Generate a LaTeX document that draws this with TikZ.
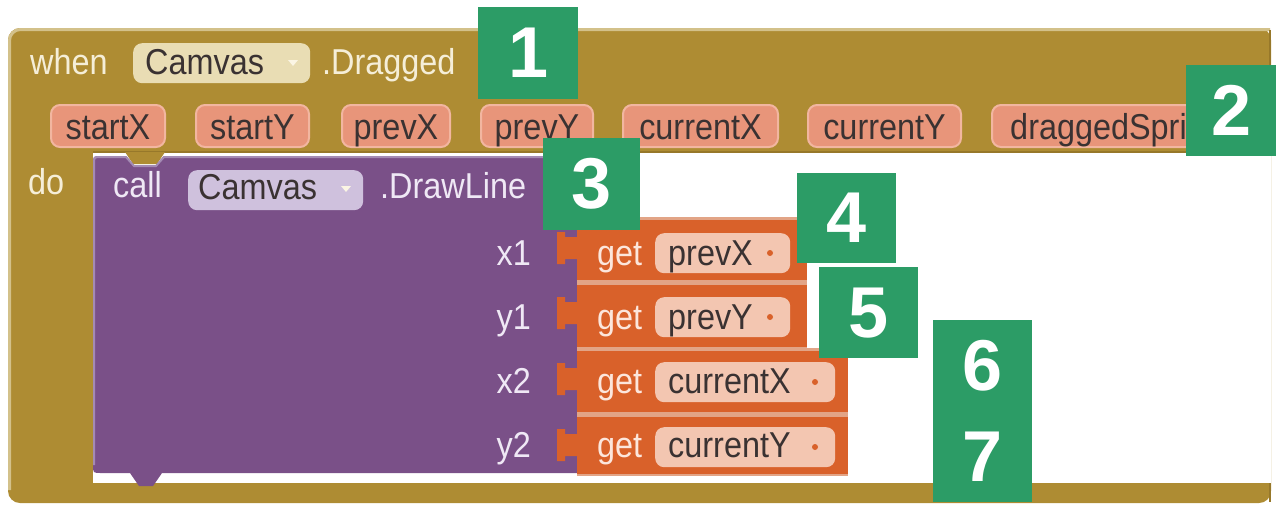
\documentclass[tikz,border=0pt]{standalone}
\usepackage{fontspec}
\setmainfont{Liberation Sans}[FakeStretch=0.9]
\newfontfamily\digitfont{Liberation Sans}
\definecolor{evt}{HTML}{AE8C33}
\definecolor{evtlight}{HTML}{D3C18A}
\definecolor{evtdark}{HTML}{97782A}
\definecolor{evttext}{HTML}{F5EED8}
\definecolor{evtpill}{HTML}{E9DDB4}
\definecolor{evtarrow}{HTML}{FBF5E4}
\definecolor{callc}{HTML}{7A5088}
\definecolor{calllight}{HTML}{A48BB4}
\definecolor{calltext}{HTML}{EFE8F5}
\definecolor{callpill}{HTML}{CFC1DD}
\definecolor{getc}{HTML}{D9612A}
\definecolor{getgap}{HTML}{E2A486}
\definecolor{gettext}{HTML}{FCE6DC}
\definecolor{getpill}{HTML}{F3C6B1}
\definecolor{param}{HTML}{E8957A}
\definecolor{paramedge}{HTML}{F2B6A0}
\definecolor{pilltext}{HTML}{3A3232}
\definecolor{mark}{HTML}{2C9C66}
\begin{document}
\begin{tikzpicture}[x=1pt,y=-1pt,
  lab/.style={inner sep=0pt, anchor=base west, font=\fontsize{36}{36}\selectfont},
  labr/.style={lab, anchor=base east, text=calltext},
  pillbox/.style={rounded corners=9pt, inner sep=0pt, anchor=north west, minimum height=40pt},
  parampill/.style={pillbox, fill=param, draw=paramedge, line width=2pt, minimum height=42pt,
    text=pilltext, font=\fontsize{36}{36}\selectfont, text height=26pt, text depth=0pt},
  getblock/.style={fill=getc, inner sep=0pt, anchor=north west},
  badge/.style={fill=mark, text=white, inner sep=0pt, anchor=north west,
    font=\digitfont\bfseries\fontsize{72}{72}\selectfont}]
\useasboundingbox (0,0) rectangle (1276,506);

% event handler body (olive frame)
\fill[evt, rounded corners=12pt] (8,28) rectangle (1271,503);
\draw[evtlight, line width=3pt, rounded corners=11pt] (9.5,490) -- (9.5,29.5) -- (1270,29.5);
\draw[evtdark, line width=2pt] (1270,30) -- (1270,502);
\fill[white] (93,153) rectangle (1271,483);
\draw[evtdark, line width=2pt] (93,152) -- (1271,152);
\fill[evt] (125,152) -- (133,164) -- (157,164) -- (165,152) -- cycle;

% call block (purple)
\fill[callc] (577,156) -- (577,473) -- (162,473) -- (153,486) -- (139,486) -- (130,473)
  -- (101,473) .. controls (93,473) .. (93,465) -- (93,164) .. controls (93,156) .. (101,156)
  -- (126,156) -- (134,165) -- (156,165) -- (164,156) -- cycle;
\draw[calllight, line width=2pt] (94,465) -- (94,164) .. controls (94,157) .. (101,157) -- (126,157)
  -- (134,166) -- (156,166) -- (164,157) -- (577,157);

% getter blocks (orange)
\fill[getgap] (577,217) rectangle (807,349);
\fill[getgap] (577,348) rectangle (848,476);
\node[getblock, minimum width=230pt, minimum height=60pt] (getA) at (577,220) {};
\node[getblock, minimum width=230pt, minimum height=62pt] (getB) at (577,285) {};
\node[getblock, minimum width=271pt, minimum height=61pt] (getC) at (577,351) {};
\node[getblock, minimum width=271pt, minimum height=57pt] (getD) at (577,417) {};
\foreach \t in {220,285,351,417}{
  \fill[getc] (578,\t+17) -- (565,\t+17) -- (565,\t+12) -- (557,\t+12) -- (557,\t+44)
    -- (565,\t+44) -- (565,\t+39) -- (578,\t+39) -- cycle;
}

% header row
\node[lab, text=evttext] (whenlbl) at (30,74) {when};
\node[pillbox, fill=evtpill, minimum width=177pt] (evtsrc) at (133,43) {};
\node[lab, text=pilltext] (evtsrcname) at (145,74) {Camvas};
\fill[evtarrow] (288,60) -- (298,60) -- (293,66) -- cycle;
\node[lab, text=evttext] (evtname) at (322,74) {.Dragged};

% event parameters
\node[parampill, minimum width=114pt] (pStartX) at (50,104) {startX};
\node[parampill, minimum width=113pt] (pStartY) at (195,104) {startY};
\node[parampill, minimum width=108pt] (pPrevX) at (341,104) {prevX};
\node[parampill, minimum width=112pt] (pPrevY) at (480,104) {prevY};
\node[parampill, minimum width=155pt] (pCurX) at (622,104) {currentX};
\node[parampill, minimum width=153pt] (pCurY) at (807,104) {currentY};
\node[parampill, minimum width=240pt] (pSprite) at (991,104) {draggedSprite};

% call row
\node[lab, text=evttext] (dolbl) at (28,194) {do};
\node[lab, text=calltext] (calllbl) at (113,197) {call};
\node[pillbox, fill=callpill, minimum width=175pt] (callsrc) at (188,170) {};
\node[lab, text=pilltext] (callsrcname) at (198,199) {Camvas};
\fill[evtarrow] (341,186) -- (351,186) -- (346,192) -- cycle;
\node[lab, text=calltext] (method) at (380,198) {.DrawLine};

% argument labels
\node[labr] (argx1) at (531,265) {x1};
\node[labr] (argy1) at (531,329) {y1};
\node[labr] (argx2) at (531,393) {x2};
\node[labr] (argy2) at (531,457) {y2};

% getter contents
\foreach \n/\b/\p/\w/\v in {A/265/233/135/prevX, B/329/297/135/prevY, C/393/362/180/currentX, D/457/427/180/currentY}{
  \node[lab, text=gettext] (get\n) at (597,\b) {get};
  \node[pillbox, fill=getpill, minimum width=\w pt] (var\n) at (655,\p) {};
  \node[lab, text=pilltext] (name\n) at (668,\b) {\v};
  \fill[getc] (655+\w-20,\p+20) circle (3pt);
}

% numbered markers
\node[badge, minimum width=100pt, minimum height=92pt] (m1) at (478,7) {1};
\node[badge, minimum width=90pt, minimum height=91pt] (m2) at (1186,65) {2};
\node[badge, minimum width=97pt, minimum height=92pt] (m3) at (543,138) {3};
\node[badge, minimum width=99pt, minimum height=90pt] (m4) at (797,173) {4};
\node[badge, minimum width=99pt, minimum height=91pt] (m5) at (819,267) {5};
\node[badge, minimum width=99pt, minimum height=91pt] (m6) at (933,320) {6};
\node[badge, minimum width=99pt, minimum height=91pt] (m7) at (933,411) {7};
\end{tikzpicture}
\end{document}
